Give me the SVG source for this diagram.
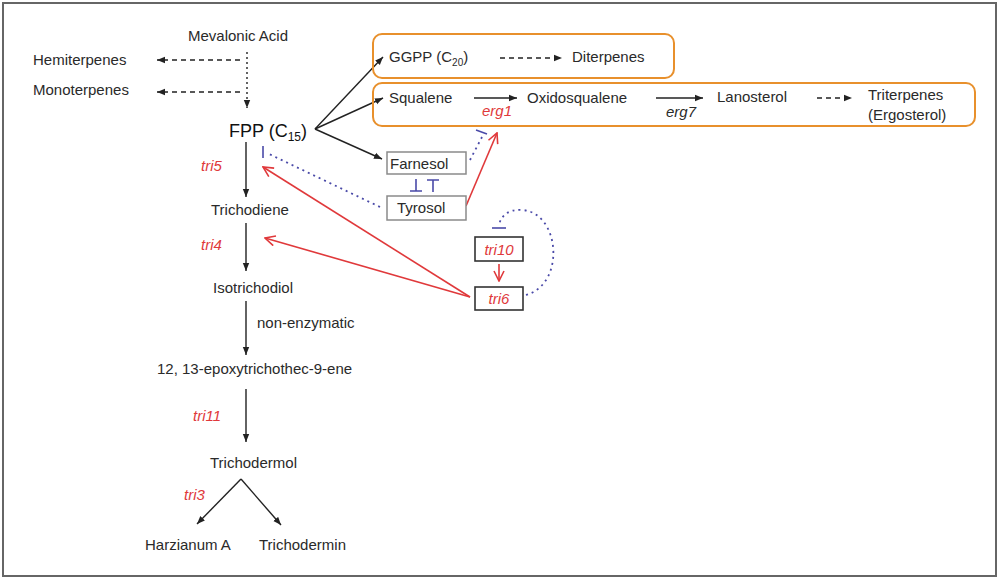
<svg xmlns="http://www.w3.org/2000/svg" width="1000" height="579" viewBox="0 0 1000 579">
<defs>
<style>
text{font-family:"Liberation Sans",Arial,sans-serif;font-size:15px;fill:#2a2a2a}
.red{fill:#e0393b;font-style:italic}
.it{font-style:italic}
.blk{stroke:#222;stroke-width:1.4;fill:none}
.dash{stroke:#222;stroke-width:1.4;fill:none;stroke-dasharray:5,4}
.dot{stroke:#222;stroke-width:1.4;fill:none;stroke-dasharray:2,3}
.rl{stroke:#e0393b;stroke-width:1.6;fill:none}
.bl{stroke:#4a4aa8;stroke-width:1.6;fill:none}
.bdot{stroke:#4a4aa8;stroke-width:1.8;fill:none;stroke-dasharray:2,4}
.orng{fill:none;stroke:#e8902c;stroke-width:2}
.gbox{fill:#fff;stroke:#8a8a8a;stroke-width:1.5}
.dbox{fill:#fff;stroke:#333;stroke-width:1.6}
</style>
<marker id="ah" viewBox="0 0 10 10" refX="10" refY="5" markerWidth="8" markerHeight="8" markerUnits="userSpaceOnUse" orient="auto"><path d="M0,1 L10,5 L0,9 z" fill="#222"/></marker>
<marker id="rh" viewBox="0 0 12 12" refX="11" refY="6" markerWidth="12" markerHeight="12" markerUnits="userSpaceOnUse" orient="auto"><path d="M1,1 L11,6 L1,11" fill="none" stroke="#e0393b" stroke-width="1.6"/></marker>
</defs>
<rect x="0" y="0" width="1000" height="579" fill="#fff"/>
<rect x="3" y="3" width="993" height="573" fill="none" stroke="#666" stroke-width="2"/>

<g id="connectors">
<path class="dash" d="M240,60 L157,60" marker-end="url(#ah)"/>
<path class="dash" d="M240,92 L157,92" marker-end="url(#ah)"/>
<path class="dot" d="M247,52 L247,108" marker-end="url(#ah)"/>
<path class="blk" d="M246,142 L246,197" marker-end="url(#ah)"/>
<path class="blk" d="M246,223 L246,271" marker-end="url(#ah)"/>
<path class="blk" d="M246,301 L246,355" marker-end="url(#ah)"/>
<path class="blk" d="M246,389 L246,442" marker-end="url(#ah)"/>
<path class="blk" d="M241,479 L197,524" marker-end="url(#ah)"/>
<path class="blk" d="M241,479 L281,525" marker-end="url(#ah)"/>
<path class="blk" d="M315,129 L383,57" marker-end="url(#ah)"/>
<path class="blk" d="M315,129 L383,98" marker-end="url(#ah)"/>
<path class="blk" d="M315,129 L382,159" marker-end="url(#ah)"/>
<path class="dash" d="M500,58 L562,58" marker-end="url(#ah)"/>
<path class="blk" d="M474,98 L517,98" marker-end="url(#ah)"/>
<path class="blk" d="M656,98 L703,98" marker-end="url(#ah)"/>
<path class="dash" d="M817,98 L852,98" marker-end="url(#ah)"/>
<path class="bdot" d="M380,207 L267,153"/>
<path class="bl" d="M263,146 L263,158"/>
<path class="bdot" d="M470,160 L482,137"/>
<path class="bl" d="M476,130 L487,134"/>
<path class="rl" d="M466,206 L497,133" marker-end="url(#rh)"/>
<path class="rl" d="M470,297 L263,167" marker-end="url(#rh)"/>
<path class="rl" d="M470,297 L265,238" marker-end="url(#rh)"/>
<path class="rl" d="M499,264 L499,281" marker-end="url(#rh)"/>
<path class="bdot" d="M526,295 C566,284 560,212 522,210 C508,209 501,216 499,225"/>
<path class="bl" d="M492,228 L506,228"/>
<path class="bl" d="M416,179 L416,191 M410,191 L422,191"/>
<path class="bl" d="M433,180 L433,192 M427,180 L439,180"/>
</g>

<g id="mevalonic"><text x="188" y="41">Mevalonic Acid</text></g>
<g id="hemiterpenes"><text x="33" y="65">Hemiterpenes</text></g>
<g id="monoterpenes"><text x="33" y="95">Monoterpenes</text></g>
<g id="fpp"><text x="229" y="137" style="font-size:18px;fill:#111">FPP (C<tspan style="font-size:12px" dy="4">15</tspan><tspan dy="-4">)</tspan></text></g>
<g id="tri5"><text class="red" x="201" y="171">tri5</text></g>
<g id="trichodiene"><text x="211" y="215">Trichodiene</text></g>
<g id="tri4"><text class="red" x="201" y="250">tri4</text></g>
<g id="isotrichodiol"><text x="213" y="293">Isotrichodiol</text></g>
<g id="nonenz"><text x="257" y="328">non-enzymatic</text></g>
<g id="epoxy"><text x="157" y="374">12, 13-epoxytrichothec-9-ene</text></g>
<g id="tri11"><text class="red" x="193" y="421">tri11</text></g>
<g id="trichodermol"><text x="210" y="468">Trichodermol</text></g>
<g id="tri3"><text class="red" x="184" y="500">tri3</text></g>
<g id="harzianum"><text x="145" y="550">Harzianum A</text></g>
<g id="trichodermin"><text x="259" y="550">Trichodermin</text></g>

<g id="ggpp-box">
<rect class="orng" x="373" y="34" width="301" height="44" rx="9"/>
<text x="389" y="62">GGPP (C<tspan style="font-size:10px" dy="4">20</tspan><tspan dy="-4">)</tspan></text>
<text x="572" y="62">Diterpenes</text>
</g>
<g id="squalene-box">
<rect class="orng" x="373" y="83" width="602" height="43" rx="9"/>
<text x="389" y="103">Squalene</text>
<text class="red" x="482" y="116">erg1</text>
<text x="527" y="103">Oxidosqualene</text>
<text class="it" x="666" y="117">erg7</text>
<text x="717" y="102">Lanosterol</text>
<text x="868" y="100">Triterpenes</text>
<text x="868" y="120">(Ergosterol)</text>
</g>
<g id="farnesol"><rect class="gbox" x="387" y="152" width="79" height="22"/><text x="390" y="169">Farnesol</text></g>
<g id="tyrosol"><rect class="gbox" x="387" y="196" width="79" height="24"/><text x="397" y="213">Tyrosol</text></g>
<g id="tri10"><rect class="dbox" x="475" y="237" width="48" height="24"/><text class="red" x="499" y="255" text-anchor="middle">tri10</text></g>
<g id="tri6"><rect class="dbox" x="475" y="287" width="48" height="23"/><text class="red" x="499" y="304" text-anchor="middle">tri6</text></g>
</svg>
